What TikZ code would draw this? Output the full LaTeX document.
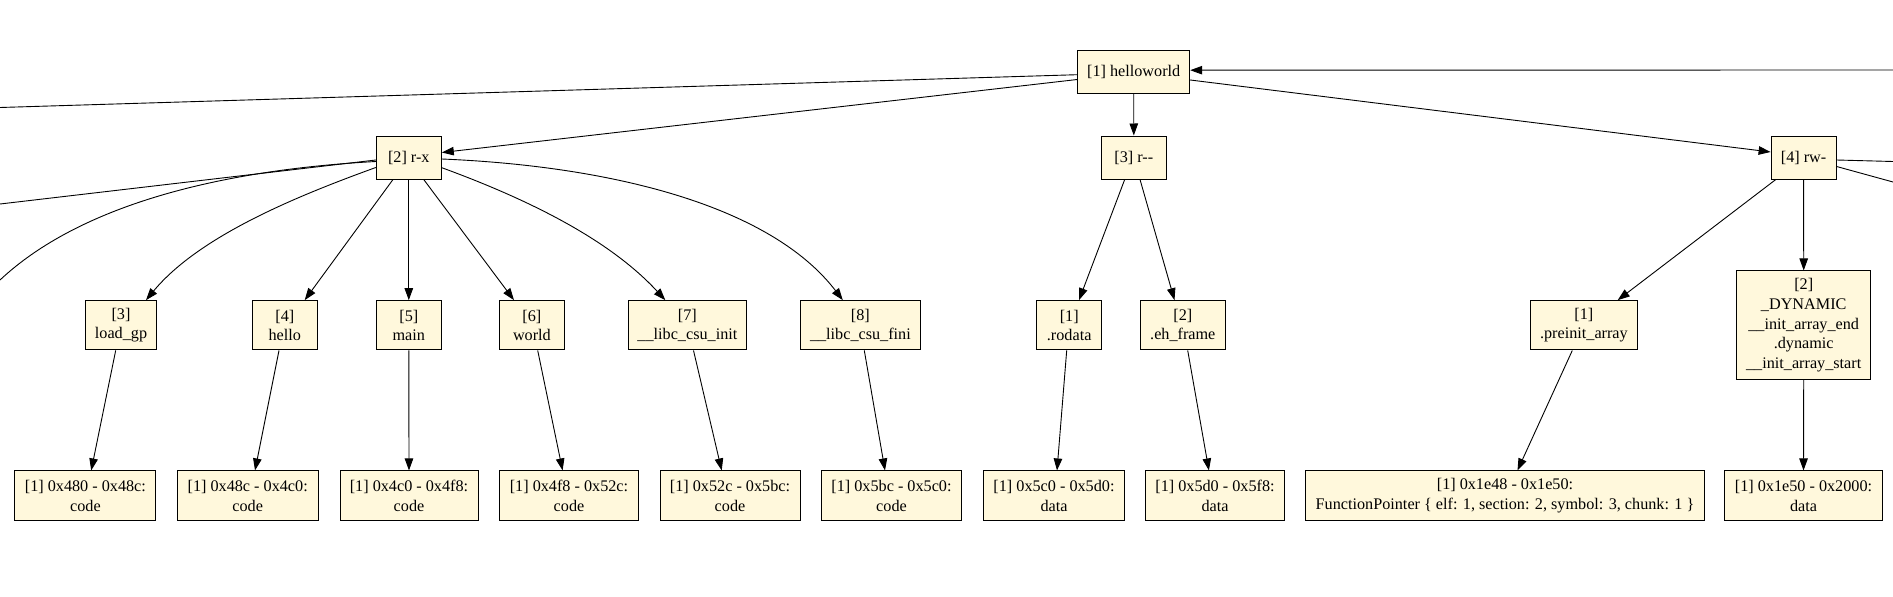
\documentclass[tikz,border=0pt]{standalone}
\usepackage{fontspec}
\setmainfont{Liberation Serif}
\usetikzlibrary{arrows.meta,calc}
\definecolor{nodefill}{HTML}{FFF8DC}
\begin{document}
\begin{tikzpicture}[x=1pt,y=-1pt,
  box/.style={draw=black, fill=nodefill, line width=1pt, inner sep=0pt, align=center,
    font=\fontsize{16.2pt}{19.6pt}\selectfont},
  b1/.style={box, minimum height=43pt},
  b2/.style={box, minimum height=49.3pt},
  b3/.style={box, minimum height=49.7pt},
  arr/.style={line width=0.9pt, -{Triangle[length=12pt,width=8.5pt]}},
  ln/.style={line width=0.9pt}]
\useasboundingbox (0,0) rectangle (1893,597);
% level 1
\node[b1, minimum width=112pt] (hw) at (1133.7,71.7) {[1] helloworld};
% level 2
\node[b1, minimum width=65pt] (rx) at (408.8,157.5) {[2] r-x};
\node[b1, minimum width=65pt] (rr) at (1133.8,157.5) {[3] r-{}-};
\node[b1, minimum width=65pt] (rw) at (1803.6,157.5) {[4] rw-};
% level 3
\node[b2, minimum width=71pt] (lg) at (121,325.3) {[3]\\load\_gp};
\node[b2, minimum width=64.7pt] (he) at (284.8,325.3) {[4]\\hello};
\node[b2, minimum width=64.7pt] (mn) at (408.8,325.3) {[5]\\main};
\node[b2, minimum width=64.7pt] (wo) at (531.9,325.3) {[6]\\world};
\node[b2, minimum width=118.5pt] (ci) at (687.4,325.3) {[7]\\\_\_libc\_csu\_init};
\node[b2, minimum width=119.8pt] (cf) at (860.4,325.3) {[8]\\\_\_libc\_csu\_fini};
\node[b2, minimum width=64.7pt] (ro) at (1069.2,325.3) {[1]\\.rodata};
\node[b2, minimum width=85.4pt] (eh) at (1182.8,325.3) {[2]\\.eh\_frame};
\node[b2, minimum width=107pt] (pi) at (1583.9,325.3) {[1]\\.preinit\_array};
\node[box, minimum width=134pt, minimum height=108.7pt] (dy) at (1803.7,325.3)
  {[2]\\\_DYNAMIC\\\_\_init\_array\_end\\.dynamic\\\_\_init\_array\_start};
% level 4
\node[b3, minimum width=141pt] (c1) at (85.4,495.8) {[1] 0x480 - 0x48c:\\code};
\node[b3, minimum width=140.6pt] (c2) at (247.7,495.8) {[1] 0x48c - 0x4c0:\\code};
\node[b3, minimum width=138pt] (c3) at (409,495.8) {[1] 0x4c0 - 0x4f8:\\code};
\node[b3, minimum width=139pt] (c4) at (569,495.8) {[1] 0x4f8 - 0x52c:\\code};
\node[b3, minimum width=140pt] (c5) at (730,495.8) {[1] 0x52c - 0x5bc:\\code};
\node[b3, minimum width=140.6pt] (c6) at (891.5,495.8) {[1] 0x5bc - 0x5c0:\\code};
\node[b3, minimum width=141.4pt] (d1) at (1054,495.8) {[1] 0x5c0 - 0x5d0:\\data};
\node[b3, minimum width=139.3pt] (d2) at (1215,495.8) {[1] 0x5d0 - 0x5f8:\\data};
\node[b3, minimum width=398.6pt] (fp) at (1505,495.8)
  {[1] 0x1e48 - 0x1e50:\\FunctionPointer \{ elf: 1, section: 2, symbol: 3, chunk: 1 \}};
\node[b3, minimum width=157.7pt] (d3) at (1803.5,495.8) {[1] 0x1e50 - 0x2000:\\data};
% free ends (off-picture)
\coordinate (L1) at (0,107.5);
\coordinate (L2) at (0,204);
\coordinate (L3) at (0,280);
\coordinate (R1) at (1893,70);
\coordinate (R2) at (1893,161.5);
\coordinate (R3) at (1893,182);
% edges from helloworld
\draw[ln] ($(hw.west)+(0,3)$) -- (L1);
\draw[arr] (R1) -- ($(hw.east)+(0,-1.5)$);
\draw[arr] ($(hw.west)+(0,7.8)$) -- ($(rx.east)+(0,-5)$);
\draw[arr] (hw.south) -- (rr.north);
\draw[arr] ($(hw.east)+(0,8.3)$) -- ($(rw.west)+(0,-5.5)$);
% edges from r-x
\draw[ln] ($(rx.west)+(0,2.5)$) -- (L2);
\draw[ln] ($(rx.west)+(0,4)$) .. controls (220,170) and (80,205) .. (L3);
\draw[arr] ($(rx.west)+(0,10)$) .. controls (300,195) and (200,235) .. ($(lg.north)+(25,0)$);
\draw[arr] ($(rx.south)+(-15.8,0)$) -- ($(he.north)+(19.9,0)$);
\draw[arr] (rx.south) -- (mn.north);
\draw[arr] ($(rx.south)+(14.9,0)$) -- ($(wo.north)+(-17.9,0)$);
\draw[arr] ($(rx.east)+(0,10.2)$) .. controls (530,200) and (610,240) .. ($(ci.north)+(-22.1,0)$);
\draw[arr] ($(rx.east)+(0,1.5)$) .. controls (610,166) and (770,205) .. ($(cf.north)+(-17.6,0)$);
% edges from r--
\draw[arr] ($(rr.south)+(-9.1,0)$) -- ($(ro.north)+(9.8,0)$);
\draw[arr] ($(rr.south)+(6.2,0)$) -- ($(eh.north)+(-8.3,0)$);
% edges from rw-
\draw[ln] ($(rw.east)+(0,2.5)$) -- (R2);
\draw[ln] ($(rw.east)+(0,9)$) -- (R3);
\draw[arr] ($(rw.south)+(-27.8,0)$) -- ($(pi.north)+(33.8,0)$);
\draw[arr] (rw.south) -- (dy.north);
% level 3 to level 4
\draw[arr] ($(lg.south)+(-5.3,0)$) -- ($(c1.north)+(5.8,0)$);
\draw[arr] ($(he.south)+(-5.8,0)$) -- ($(c2.north)+(7.3,0)$);
\draw[arr] (mn.south) -- (c3.north);
\draw[arr] ($(wo.south)+(5.8,0)$) -- ($(c4.north)+(-6.4,0)$);
\draw[arr] ($(ci.south)+(6.1,0)$) -- ($(c5.north)+(-8.3,0)$);
\draw[arr] ($(cf.south)+(3.9,0)$) -- ($(c6.north)+(-6.5,0)$);
\draw[arr] ($(ro.south)+(-2.5,0)$) -- ($(d1.north)+(3,0)$);
\draw[arr] ($(eh.south)+(4.9,0)$) -- ($(d2.north)+(-6.1,0)$);
\draw[arr] ($(pi.south)+(-11.6,0)$) -- ($(fp.north)+(12.5,0)$);
\draw[arr] (dy.south) -- (d3.north);
\end{tikzpicture}
\end{document}
